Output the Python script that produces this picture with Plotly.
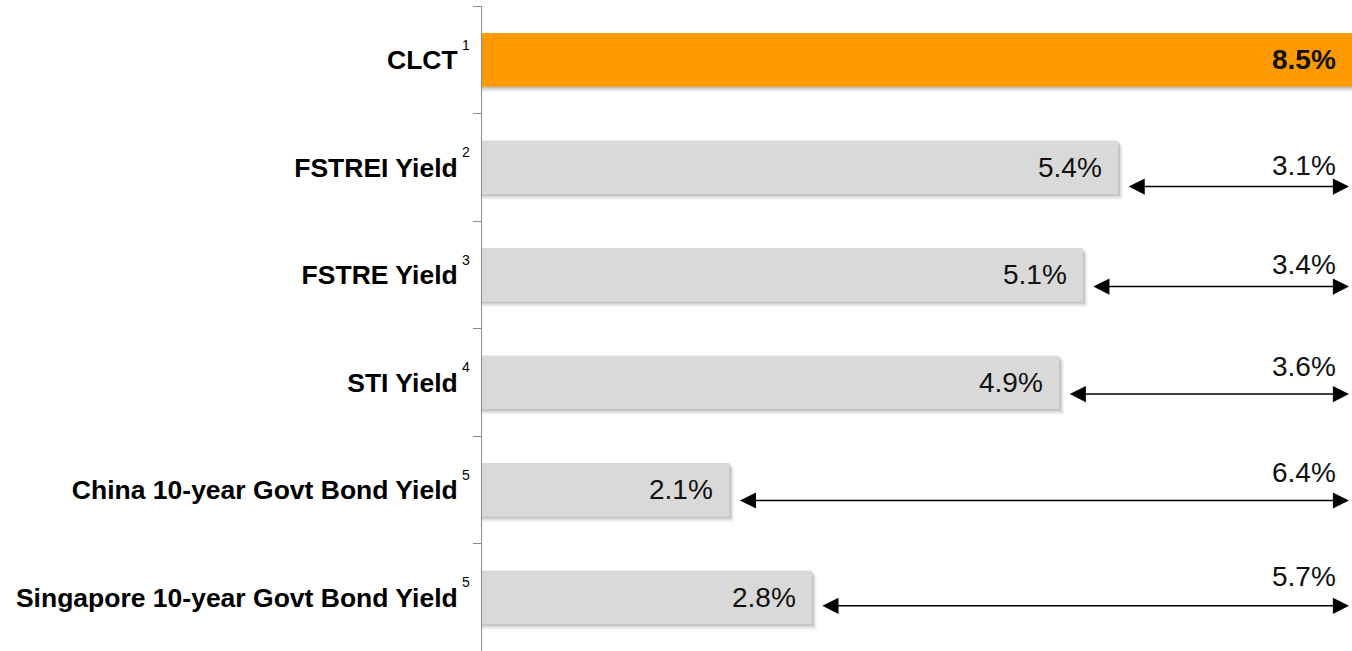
import plotly.graph_objects as go

# ---- data ----
categories = ["CLCT", "FSTREI Yield", "FSTRE Yield", "STI Yield",
              "China 10-year Govt Bond Yield", "Singapore 10-year Govt Bond Yield"]
footnotes = ["1", "2", "3", "4", "5", "5"]
yields = [8.5, 5.4, 5.1, 4.9, 2.1, 2.8]
spreads = [None, 3.1, 3.4, 3.6, 6.4, 5.7]

# ---- styling / layout constants ----
X_MAX = 7.385           # visible part of the value axis (CLCT bar is clipped)
BAR_W = 0.5
COLORS = ["#FF9900"] + ["#D9D9D9"] * 5
FONT = "Arial, Liberation Sans, sans-serif"
arrow_off = [0, 0.18, 0.11, 0.11, 0.10, 0.08]
label_off = [0, -0.02, -0.10, -0.15, -0.16, -0.19]

labels = [f"<b>{c}</b>" for c in categories]

fig = go.Figure()
# soft drop shadow
for dx, dy, a in [(0.04, 0.05, 0.05), (0.028, 0.033, 0.08), (0.016, 0.018, 0.12)]:
    fig.add_trace(go.Bar(
        y=labels, x=[v + dx for v in yields], orientation="h",
        width=BAR_W, offset=-BAR_W / 2 + dy,
        marker=dict(color=f"rgba(0,0,0,{a})", line=dict(width=0)),
        hoverinfo="skip", showlegend=False,
    ))
fig.add_trace(go.Bar(
    y=labels, x=yields, orientation="h", width=BAR_W,
    marker=dict(color=COLORS, line=dict(width=0)),
    showlegend=False,
))

annotations = []
for i, v in enumerate(yields):
    # footnote marker next to category label
    annotations.append(dict(
        x=0, y=i, xref="x", yref="y", xanchor="left", yanchor="middle",
        xshift=-22, yshift=15, showarrow=False, text=footnotes[i],
        font=dict(family=FONT, size=14, color="#000000"),
    ))
    xpos = min(v, X_MAX)
    annotations.append(dict(
        x=xpos, y=i, xref="x", yref="y", xanchor="right", yanchor="middle",
        xshift=-14, showarrow=False,
        text=(f"<b>{v:.1f}%</b>" if i == 0 else f"{v:.1f}%"),
        font=dict(family=FONT, size=28, color="#111111"),
    ))
    if spreads[i] is not None:
        annotations.append(dict(
            x=X_MAX, y=i + arrow_off[i], ax=v, ay=i + arrow_off[i],
            xref="x", yref="y", axref="x", ayref="y",
            text="", showarrow=True, arrowside="end+start",
            arrowhead=2, startarrowhead=2, arrowsize=2.15, startarrowsize=2.15,
            arrowwidth=1.5, arrowcolor="#000000",
            standoff=3, startstandoff=9,
        ))
        annotations.append(dict(
            x=X_MAX, y=i + label_off[i], xref="x", yref="y",
            xanchor="right", yanchor="middle", xshift=-14, showarrow=False,
            text=f"{spreads[i]:.1f}%",
            font=dict(family=FONT, size=28, color="#111111"),
        ))

fig.update_layout(
    width=1352, height=651,
    margin=dict(l=482, r=0, t=6, b=0, autoexpand=False),
    paper_bgcolor="white", plot_bgcolor="white",
    barmode="overlay",
    annotations=annotations,
    xaxis=dict(visible=False, range=[0, X_MAX], fixedrange=True),
    yaxis=dict(
        autorange="reversed", showline=True, linecolor="#8c8c8c", linewidth=1,
        ticks="outside", ticklen=8, tickcolor="#8c8c8c", tickwidth=1,
        tickson="boundaries", showgrid=False, zeroline=False,
        tickfont=dict(family=FONT, size=26.5, color="#000000"),
        ticklabelstandoff=18,
    ),
)

fig.write_html("out.html", config={"displayModeBar": False},
               post_script="document.body.style.margin='0';")
